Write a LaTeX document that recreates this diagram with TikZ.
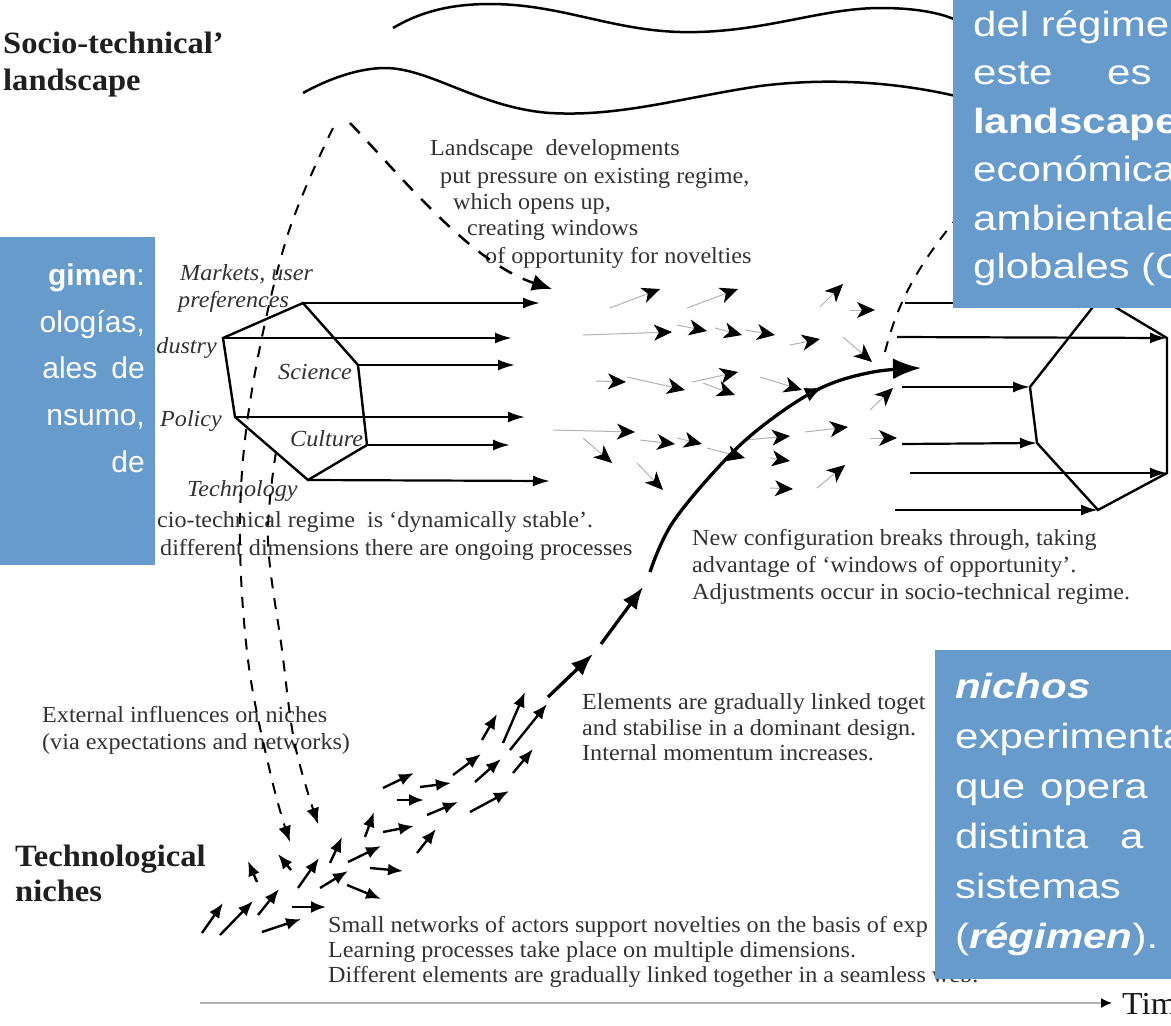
\documentclass[tikz,border=0pt]{standalone}
\usepackage{fontspec}
\setmainfont{Liberation Serif}[FakeStretch=1.05]
\newfontfamily\boxfont{Liberation Sans}[FakeStretch=1.2]
\newfontfamily\leftboxfont{Liberation Sans}
\usetikzlibrary{arrows.meta,decorations.markings}
\definecolor{boxblue}{RGB}{103,155,204}
\definecolor{inkgray}{RGB}{50,50,50}
\begin{document}
\begin{tikzpicture}[x=1pt,y=-1pt,
  txt/.style={inner sep=0pt, anchor=base west, text=inkgray, font=\fontsize{23}{27}\selectfont},
  itxt/.style={inner sep=0pt, anchor=base west, text=inkgray, font=\fontsize{23}{27}\selectfont\itshape},
  bigtxt/.style={inner sep=0pt, anchor=base west, text=black!88, font=\fontsize{31}{36}\selectfont\bfseries},
  boxtxt/.style={inner sep=0pt, anchor=base west, text=white, font=\boxfont\fontsize{35}{42}\selectfont},
  ltxt/.style={inner sep=0pt, anchor=base east, text=white, font=\leftboxfont\fontsize{30}{36}\selectfont},
  hexedge/.style={line width=2.4pt, line join=miter},
  hexarrow/.style={line width=2.2pt, -{Latex[length=17pt,width=11pt]}},
  nicharrow/.style={line width=2.4pt, -{Latex[length=15pt,width=12pt]}},
  grayarrow/.style={line width=1pt, draw=black!30, -{Stealth[length=18pt,width=16pt,inset=5pt,color=black]}},
  dashline/.style={line width=2pt, dash pattern=on 11pt off 10pt},
  wave/.style={line width=2.5pt},
  bigcurve/.style={line width=3.3pt, -{Latex[length=22pt,width=17pt]}},
  bluebox/.style={fill=boxblue, draw=none}
]
\fill[white] (0,0) rectangle (1171,1026);
\useasboundingbox (0,0) rectangle (1171,1026);
\clip (0,0) rectangle (1171,1026);

% ---------- landscape waves ----------
\coordinate (w1s) at (393,28);
\coordinate (w1e) at (960,22);
\draw[wave] (w1s) .. controls (420,12) and (450,4) .. (490,4)
  .. controls (560,4) and (610,30) .. (680,32)
  .. controls (760,34) and (820,8) .. (880,8)
  .. controls (920,8) and (945,14) .. (w1e);
\coordinate (w2s) at (303,93);
\coordinate (w2e) at (960,97);
\draw[wave] (w2s) .. controls (330,78) and (360,68) .. (385,68)
  .. controls (430,68) and (480,108) .. (550,113)
  .. controls (620,117) and (680,98) .. (760,86)
  .. controls (840,76) and (910,85) .. (w2e);

% ---------- labels ----------
\node[bigtxt] (landT) at (3,53) {Socio-technical’};
\node[bigtxt] (landB) at (3,90) {landscape};
\node[bigtxt] (nichT) at (15,866) {Technological};
\node[bigtxt] (nichB) at (15,901) {niches};

\node[txt] (ld1) at (430,155) {Landscape\ \ developments};
\node[txt] (ld2) at (440,183) {put pressure on existing regime,};
\node[txt] (ld3) at (453,209) {which opens up,};
\node[txt] (ld4) at (467,235) {creating windows};
\node[txt] (ld5) at (485,263) {of opportunity for novelties};

\node[txt] (rg1) at (157,527) {cio-technical regime\ \ is ‘dynamically stable’.};
\node[txt] (rg2) at (160,555) {different dimensions there are ongoing processes};

\node[txt] (nc1) at (692,545) {New configuration breaks through, taking};
\node[txt] (nc2) at (692,572) {advantage of ‘windows of opportunity’.};
\node[txt] (nc3) at (692,599) {Adjustments occur in socio-technical regime.};

\node[txt] (el1) at (582,709) {Elements are gradually linked toget};
\node[txt] (el2) at (582,735) {and stabilise in a dominant design.};
\node[txt] (el3) at (582,760) {Internal momentum increases.};

\node[txt] (ex1) at (42,722) {External influences on niches};
\node[txt] (ex2) at (42,749) {(via expectations and networks)};

\node[txt] (sm1) at (328,932) {Small networks of actors support novelties on the basis of exp};
\node[txt] (sm2) at (328,957) {Learning processes take place on multiple dimensions.};
\node[txt] (sm3) at (328,982) {Different elements are gradually linked together in a seamless web.};

% ---------- left hexagon (regime) ----------
\coordinate (L1) at (303,303);
\coordinate (L2) at (358,365);
\coordinate (L3) at (367,445);
\coordinate (L4) at (308,480);
\coordinate (L5) at (235,417);
\coordinate (L6) at (223,338);
\draw[hexedge] (L1)--(L2)--(L3)--(L4)--(L5)--(L6)--cycle;
\coordinate (a1) at (540,303);
\coordinate (a2) at (512,338);
\coordinate (a3) at (515,365);
\coordinate (a4) at (525,417);
\coordinate (a5) at (510,445);
\coordinate (a6) at (550,481);
\draw[hexarrow] (L1) -- (a1);
\draw[hexarrow] (L6) -- (a2);
\draw[hexarrow] (L2) -- (a3);
\draw[hexarrow] (L5) -- (a4);
\draw[hexarrow] (L3) -- (a5);
\draw[hexarrow] (L4) -- (a6);

\node[itxt] (lm1) at (180,280) {Markets, user};
\node[itxt] (lm2) at (178,307) {preferences};
\node[itxt, anchor=base east] (lind) at (217,353) {dustry};
\node[itxt] (lsci) at (278,379) {Science};
\node[itxt] (lpol) at (160,426) {Policy};
\node[itxt] (lcul) at (290,446) {Culture};
\node[itxt] (ltec) at (187,496) {Technology};

% ---------- right hexagon (new regime) ----------
\coordinate (R1) at (1100,298);
\coordinate (R2) at (1167,338);
\coordinate (R3) at (1167,473);
\coordinate (R4) at (1098,510);
\coordinate (R5) at (1037,443);
\coordinate (R6) at (1030,387);
\draw[hexedge] (R1)--(R2)--(R3)--(R4)--(R5)--(R6)--cycle;
\coordinate (b0) at (905,303);
\coordinate (b0e) at (1096,303);
\coordinate (b1) at (897,337);
\coordinate (b2) at (902,387);
\coordinate (b3) at (902,444);
\coordinate (b4) at (910,473);
\coordinate (b5) at (895,510);
\draw[hexarrow] (b0) -- (b0e);
\draw[hexarrow] (b1) -- (R2);
\draw[hexarrow] (b2) -- (R6);
\draw[hexarrow] (b3) -- (R5);
\draw[hexarrow] (b4) -- (R3);
\draw[hexarrow] (b5) -- (R4);

% ---------- dashed influences ----------
\coordinate (dA0) at (350,123);
\coordinate (dA1) at (552,289);
\draw[dashline, line width=2.5pt, dash pattern=on 14pt off 12pt, -{Latex[length=20pt,width=17pt]}]
  (dA0) .. controls (400,175) and (470,262) .. (dA1);
\coordinate (dB0) at (333,128);
\coordinate (dB1) at (290,842);
\draw[dashline, -{Latex[length=16pt,width=13pt]}] plot[smooth, tension=0.6] coordinates
  {(dB0) (287,237) (252,390) (240,520) (248,660) (272,780) (dB1)};
\coordinate (dC0) at (276,452);
\coordinate (dC1) at (318,824);
\draw[dashline, -{Latex[length=16pt,width=13pt]}] plot[smooth, tension=0.6] coordinates
  {(dC0) (268,540) (282,650) (295,745) (dC1)};
\coordinate (dD0) at (885,352);
\coordinate (dD1) at (962,212);
\draw[dashline] (dD0) .. controls (898,300) and (920,262) .. (dD1);

% ---------- central small arrows ----------
\foreach \sx/\sy/\ex/\ey in {
  610/308/660/289, 687/308/738/289, 583/335/672/332, 677/325/707/331,
  715/328/742/335, 745/330/775/335, 790/345/820/339, 820/307/843/284,
  850/310/875/310, 843/337/872/362, 596/381/626/382, 627/377/685/390,
  692/382/738/372, 703/383/735/395, 760/377/802/390, 870/410/893/388,
  553/430/635/432, 583/438/612/463, 640/440/675/444, 677/438/702/444,
  707/448/745/458, 745/440/790/436, 805/432/848/427, 637/463/663/490,
  770/458/790/461, 770/488/793/489, 817/488/845/465, 870/438/897/438}
  \draw[grayarrow] (\sx,\sy) -- (\ex,\ey);

% ---------- niche arrows ----------
\foreach \sx/\sy/\ex/\ey in {
  202/933/223/903, 220/935/253/901, 258/915/279/889, 262/932/301/919,
  292/907/326/907, 257/882/248/861, 291/870/278/854, 298/888/319/858,
  320/888/348/871, 330/863/342/837, 348/862/381/846, 347/885/381/899,
  365/837/374/812, 370/868/403/871, 383/788/414/773, 383/832/414/826,
  397/800/424/800, 420/787/451/783, 427/815/458/802, 417/853/436/829,
  453/775/481/754, 475/782/501/759, 470/812/509/791, 482/740/497/714,
  503/743/525/692, 513/773/533/749, 510/750/547/704}
  \draw[nicharrow] (\sx,\sy) -- (\ex,\ey);

% ---------- breakthrough trajectory ----------
\coordinate (T0) at (548,697);
\coordinate (T1) at (593,654);
\coordinate (T2) at (601,644);
\coordinate (T3) at (643,587);
\coordinate (T4) at (650,572);
\coordinate (T6) at (921,368);
\draw[bigcurve] (T0) -- (T1);
\draw[bigcurve] (T2) -- (T3);
\draw[bigcurve, -{Latex[length=28pt,width=21pt]}, postaction={decorate}, decoration={markings,
  mark=at position 0.72 with {\arrow{Latex[length=18pt,width=15pt]}}}]
  plot[smooth, tension=0.6] coordinates {(T4) (673,522) (727,458) (773,418) (823,387) (873,372) (T6)};

% ---------- time axis ----------
\coordinate (t0) at (200,1003);
\coordinate (t1) at (1112,1003);
\draw[line width=1.5pt, draw=black!30, -{Latex[length=11pt,width=10pt,color=black]}] (t0) -- (t1);
\node[inner sep=0pt, anchor=base west, font=\fontsize{32}{36}\selectfont, text=black!90] (time) at (1122,1014) {Tim};

% ---------- blue boxes ----------
\fill[bluebox] (953,0) rectangle (1171,308);
\node[boxtxt] (tb1) at (973,36) {del régime};
\node[boxtxt] (tb2a) at (973,84.5) {este};
\node[boxtxt] (tb2b) at (1107,84.5) {es};
\node[boxtxt, font=\boxfont\fontsize{35}{42}\selectfont\bfseries] (tb3) at (973,133) {landscape};
\node[boxtxt] (tb4) at (973,181.5) {económica};
\node[boxtxt] (tb5) at (973,230) {ambientale};
\node[boxtxt] (tb6) at (973,278.5) {globales (C};

\fill[bluebox] (0,237) rectangle (155,565);
\node[ltxt] (lb1) at (145,285) {\textbf{gimen}:};
\node[ltxt] (lb2) at (145,332) {ologías,};
\node[ltxt] (lb3) at (145,378) {ales\hspace{14pt}de};
\node[ltxt] (lb4) at (145,425) {nsumo,};
\node[ltxt] (lb5) at (145,472) {de};

\fill[bluebox] (935,650) rectangle (1171,979);
\node[boxtxt, font=\boxfont\fontsize{35}{42}\selectfont\bfseries\itshape] (bb1) at (955,698) {nichos};
\node[boxtxt] (bb2) at (955,748) {experimenta};
\node[boxtxt] (bb3a) at (955,798) {que};
\node[boxtxt] (bb3b) at (1040,798) {opera};
\node[boxtxt] (bb4a) at (955,848) {distinta};
\node[boxtxt] (bb4b) at (1120,848) {a};
\node[boxtxt] (bb5) at (955,898) {sistemas};
\node[boxtxt] (bb6) at (955,948) {(\textbf{\textit{régimen}}).};
\end{tikzpicture}
\end{document}
